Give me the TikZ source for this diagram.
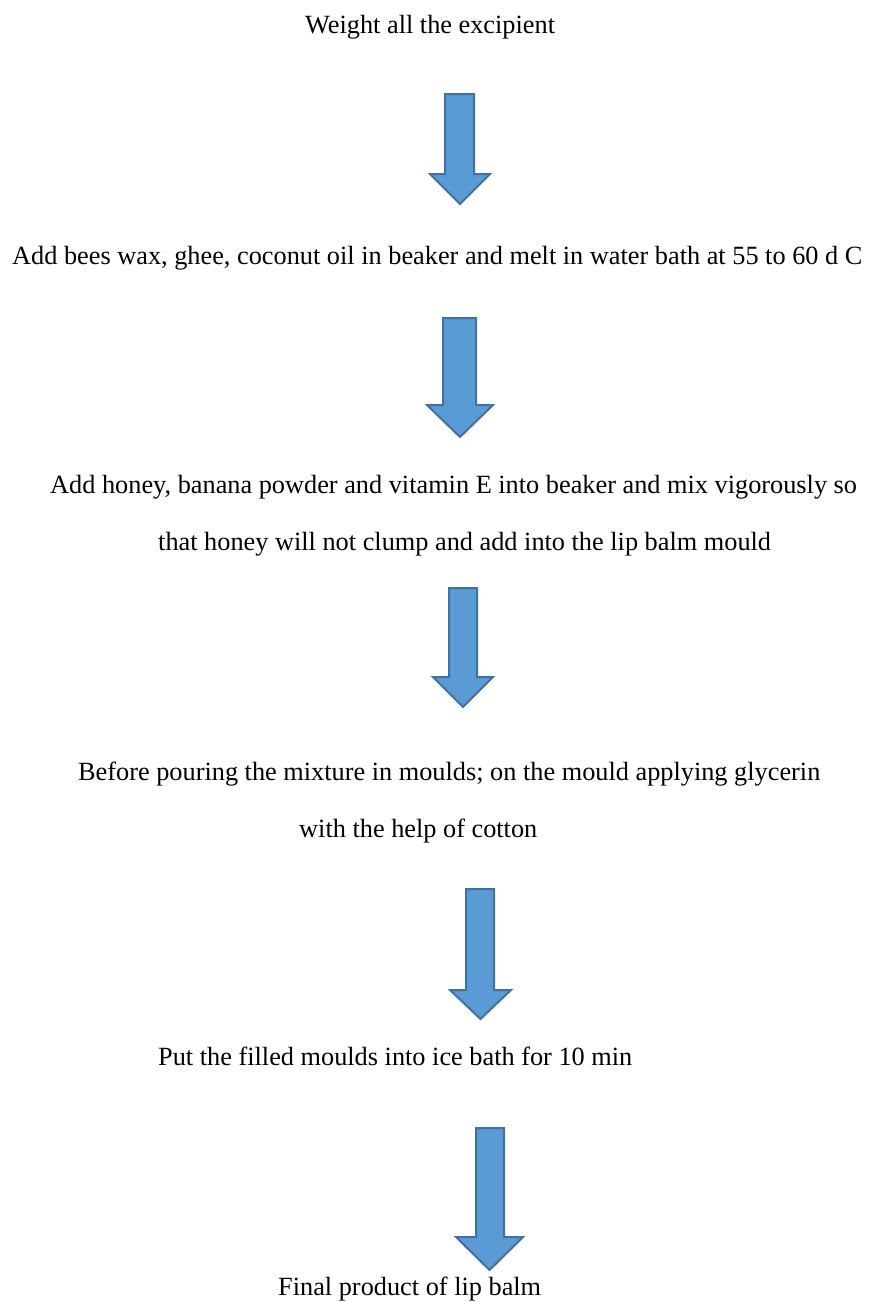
\documentclass[tikz,border=0pt]{standalone}
\usepackage{fontspec}
\setmainfont{Liberation Serif}
\definecolor{arrfill}{HTML}{5B9BD5}
\definecolor{arrline}{HTML}{41719C}
\tikzset{
  steptext/.style={anchor=base west, inner sep=0pt, font=\fontsize{26.3}{30}\selectfont, text=black},
  blockarrow/.style={fill=arrfill, draw=arrline, line width=2pt, line join=miter}
}
\newcommand{\downarrowshape}[7]{%
  % #1 shaft left, #2 shaft right, #3 head left, #4 head right, #5 top, #6 head start, #7 tip
  \draw[blockarrow] (#1,#5) -- (#2,#5) -- (#2,#6) -- (#4,#6) -- ({(#3+#4)/2},#7) -- (#3,#6) -- (#1,#6) -- cycle;
}
\begin{document}
\begin{tikzpicture}[x=1pt,y=-1pt]
\useasboundingbox[fill=white] (0,0) rectangle (876,1302);
\node[steptext] (s1) at (305,33) {Weight all the excipient};
\node[steptext] (s2) at (12,264) {Add bees wax, ghee, coconut oil in beaker and melt in water bath at 55 to 60 d C};
\node[steptext] (s3a) at (50,493) {Add honey, banana powder and vitamin E into beaker and mix vigorously so};
\node[steptext] (s3b) at (158,550) {that honey will not clump and add into the lip balm mould};
\node[steptext] (s4a) at (78,780) {Before pouring the mixture in moulds; on the mould applying glycerin};
\node[steptext] (s4b) at (299,837) {with the help of cotton};
\node[steptext] (s5) at (158,1065) {Put the filled moulds into ice bath for 10 min};
\node[steptext] (s6) at (278,1295) {Final product of lip balm};
\downarrowshape{445}{474}{430}{490}{94}{174}{204}
\downarrowshape{443}{476}{427}{493}{318}{405}{437}
\downarrowshape{449}{477}{433}{493}{588}{677}{707}
\downarrowshape{466}{494}{450}{511}{889}{990}{1019}
\downarrowshape{476}{504}{456}{523}{1128}{1237}{1270}
\end{tikzpicture}
\end{document}
